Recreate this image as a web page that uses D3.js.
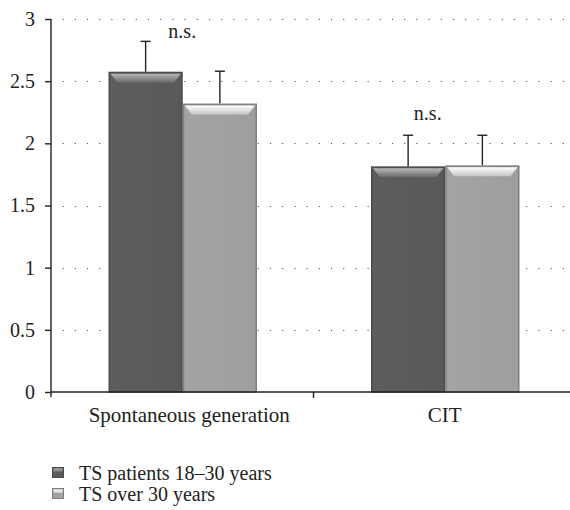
<!DOCTYPE html>
<html><head><meta charset="utf-8">
<script src="https://cdn.jsdelivr.net/npm/d3@7"></script>
</head><body style="margin:0;background:#fff"><svg id="c" width="570" height="510" style="display:block"></svg>
<script>
const categories = ["Spontaneous generation", "CIT"];
const seriesNames = ["TS patients 18\u201330 years", "TS over 30 years"];
const young = [2.576, 1.815];
const older = [2.32, 1.823];
const youngErr = [0.244, 0.25];
const olderErr = [0.26, 0.242];
const sigLabels = ["n.s.", "n.s."];
const sigY = [2.85, 2.19];
const yTicks = [0, 0.5, 1, 1.5, 2, 2.5, 3];

const FONT = '"Liberation Serif"';
const svg = d3.select("#c");
const x0 = d3.scaleBand().domain(categories).range([51, 576]).paddingInner(0).paddingOuter(0);
const x1 = d3.scaleBand().domain([0,1]).range([57.5, 206]).padding(0);
const y = d3.scaleLinear().domain([0,3]).range([392, 19]);
const fills = ["#5b5b5b", "#a1a1a1"];
const strokes = ["#4b4b4b", "#7f7f7f"];
const topLight = [["#b8b8b8","#686868"],["#ffffff","#c4c4c4"]];

const defs = svg.append("defs");
topLight.forEach((c,i)=>{
  const g = defs.append("linearGradient").attr("id","tg"+i).attr("x1",0).attr("y1",0).attr("x2",0).attr("y2",1);
  g.append("stop").attr("offset","0%").attr("stop-color",c[0]);
  g.append("stop").attr("offset","100%").attr("stop-color",c[1]);
});
fills.forEach((c,i)=>{
  const g = defs.append("linearGradient").attr("id","bg"+i).attr("x1",0).attr("y1",0).attr("x2",1).attr("y2",0);
  g.append("stop").attr("offset","0%").attr("stop-color",d3.color(c).brighter(0.05));
  g.append("stop").attr("offset","100%").attr("stop-color",d3.color(c).darker(0.05));
});

// gridlines
svg.append("g").selectAll("line").data(yTicks.filter(d=>d>0)).join("line")
  .attr("x1",62.5).attr("x2",570).attr("y1",d=>Math.round(y(d))+0.5).attr("y2",d=>Math.round(y(d))+0.5)
  .attr("stroke","#555").attr("stroke-width",1.2).attr("stroke-dasharray","1.2,11");

// bars
const data = [];
categories.forEach((c,ci)=>{
  data.push({c, s:0, v:young[ci], e:youngErr[ci]});
  data.push({c, s:1, v:older[ci], e:olderErr[ci]});
});
const bx = d => x0(d.c) + x1(d.s);
const bw = x1.bandwidth();
const bars = svg.append("g").selectAll("g").data(data).join("g");
bars.append("line").attr("x1",d=>bx(d)+bw/2).attr("x2",d=>bx(d)+bw/2)
  .attr("y1",d=>y(d.v)).attr("y2",d=>y(d.v+d.e)).attr("stroke","#222").attr("stroke-width",1.4);
bars.append("line").attr("x1",d=>bx(d)+bw/2-5).attr("x2",d=>bx(d)+bw/2+5)
  .attr("y1",d=>y(d.v+d.e)).attr("y2",d=>y(d.v+d.e)).attr("stroke","#222").attr("stroke-width",1.4);
bars.append("rect").attr("x",d=>bx(d)+0.75).attr("y",d=>y(d.v)+0.75).attr("width",bw-1.5).attr("height",d=>y(0)-y(d.v)-0.75)
  .attr("fill",d=>`url(#bg${d.s})`).attr("stroke",d=>strokes[d.s]).attr("stroke-width",1.5);
bars.append("polygon").attr("points",d=>{
  const l=bx(d)+2, r=bx(d)+bw-2, t=y(d.v)+2, b=t+9;
  return `${l},${t} ${r},${t} ${r-7},${b} ${l+7},${b}`;
}).attr("fill",d=>`url(#tg${d.s})`);

// significance labels
svg.append("g").selectAll("text").data(categories).join("text")
  .attr("x",(d,i)=>x0(d)+x0.bandwidth()/2 + (i===0 ? 0 : -17))
  .attr("y",(d,i)=>y(sigY[i]))
  .attr("text-anchor","middle").style("font-family",FONT).style("font-size","20px").attr("fill","#222")
  .text((d,i)=>sigLabels[i]);

// y axis
const ya = svg.append("g").attr("transform","translate(51,0)")
  .call(d3.axisLeft(y).tickValues(yTicks).tickFormat(d3.format("")).tickSize(6).tickPadding(10));
ya.attr("font-family",null).attr("font-size",null);
ya.select(".domain").attr("d",`M0,${y(3)}V${y(0)+5}`).attr("stroke","#222").attr("stroke-width",1.4);
ya.selectAll(".tick line").attr("stroke","#222").attr("stroke-width",1.4);
ya.selectAll("text").style("font-family",FONT).style("font-size","20px").attr("fill","#222");

// x axis
const xa = svg.append("g").attr("transform",`translate(0,${y(0)})`)
  .call(d3.axisBottom(x0).tickSize(0));
xa.attr("font-family",null).attr("font-size",null);
xa.select(".domain").attr("d","M51,0H570").attr("stroke","#222").attr("stroke-width",1.6);
xa.selectAll("text").attr("y",30).attr("dy",0).attr("dx",(d,i)=>i===0?7:0)
  .style("font-family",FONT).style("font-size","21px").attr("fill","#222");
xa.append("line").attr("x1",x0.range()[0]+x0.bandwidth()).attr("x2",x0.range()[0]+x0.bandwidth())
  .attr("y1",0).attr("y2",6).attr("stroke","#222").attr("stroke-width",1.4);

// legend
const lg = svg.append("g").selectAll("g").data(seriesNames).join("g")
  .attr("transform",(d,i)=>`translate(52,${467+i*21})`);
lg.append("rect").attr("x",0.5).attr("y",0.5).attr("width",11).attr("height",10).attr("fill",(d,i)=>fills[i]).attr("stroke",(d,i)=>strokes[i]);
lg.append("rect").attr("x",1.5).attr("y",1.5).attr("width",9).attr("height",3.5).attr("fill",(d,i)=>`url(#tg${i})`);
lg.append("text").attr("x",27).attr("y",13).style("font-family",FONT).style("font-size","20px").attr("fill","#222").text(d=>d);
</script></body></html>
